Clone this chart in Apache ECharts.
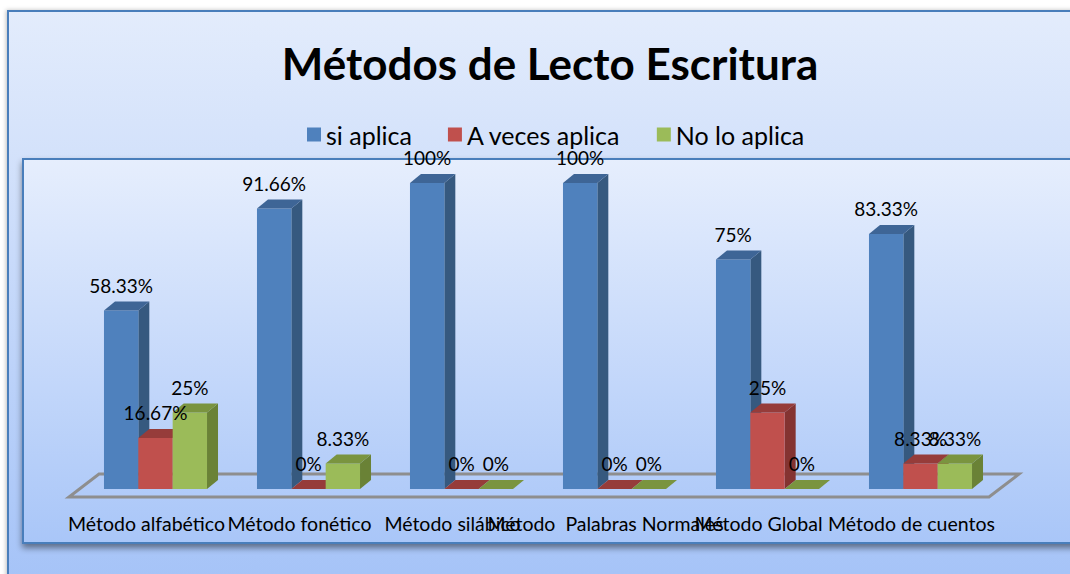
<!DOCTYPE html>
<html>
<head>
<meta charset="utf-8">
<script src="https://cdn.jsdelivr.net/npm/echarts@6/dist/echarts.min.js"></script>
<style>
  html, body { margin: 0; padding: 0; background: #ffffff; }
  #chart { width: 1070px; height: 574px; }
</style>
</head>
<body>
<div id="chart"></div>
<script>
// ---- Data ----
const titleText = 'Métodos de Lecto Escritura';
const categories = ['Método alfabético', 'Método fonético', 'Método silábico', 'Método  Palabras Normales', 'Método Global', 'Método de cuentos'];
const seriesNames = ['si aplica', 'A veces aplica', 'No lo aplica'];
const siAplica = [58.33, 91.66, 100, 100, 75, 83.33];
const aVecesAplica = [16.67, 0, 0, 0, 25, 8.33];
const noLoAplica = [25, 8.33, 0, 0, 0, 8.33];

// ---- Styles ----
const FONT = 'Lato';
const palette = [
  { front: '#4F81BD', top: '#3E6596', side: '#36597F' },
  { front: '#C0504D', top: '#963C3A', side: '#843331' },
  { front: '#9BBB59', top: '#7A943F', side: '#6A8236' }
];
const BAR_FRAC = 0.2245;   // bar width as fraction of category band
const DEPTH_X = 0.32;      // 3D depth as fraction of bar width
const DEPTH_Y = 0.26;

const chart = echarts.init(document.getElementById('chart'), null, { renderer: 'svg' });

function makeBarRenderer(k) {
  return function (params, api) {
    const cat = api.value(0);
    const val = api.value(1);
    const base = api.coord([cat, 0]);
    const top = api.coord([cat, val]);
    const band = api.size([1, 0])[0];
    const bw = band * BAR_FRAC;
    const dx = bw * DEPTH_X, dy = bw * DEPTH_Y;
    const x0 = base[0] + (k - 1) * bw - bw / 2;
    const yb = base[1], yt = top[1];
    const c = palette[k];
    const zb = 10 + k * 5;
    return {
      type: 'group',
      children: [
        { type: 'polygon', z2: zb, shape: { points: [[x0 + bw, yt], [x0 + bw + dx, yt - dy], [x0 + bw + dx, yb - dy], [x0 + bw, yb]] },
          style: { fill: c.side } },
        { type: 'rect', z2: zb + 1, shape: { x: x0, y: yt, width: bw, height: yb - yt },
          style: { fill: c.front } },
        { type: 'polygon', z2: zb + 2, shape: { points: [[x0, yt], [x0 + dx, yt - dy], [x0 + bw + dx, yt - dy], [x0 + bw, yt]] },
          style: { fill: c.top } },
        { type: 'text', z2: 100,
          style: { x: x0 + bw / 2, y: yt - dy - 7, text: val + '%', fill: '#000', font: '19px ' + FONT,
                   align: 'center', verticalAlign: 'bottom' } }
      ]
    };
  };
}

function renderFloor(params, api) {
  const cs = params.coordSys;
  const base = api.coord([0, 0])[1];
  const fy = base + 8, by = base - 15;
  const fl = cs.x - 10, fr = cs.x + cs.width - 8;
  const sx = 30;
  return {
    type: 'polygon',
    shape: { points: [[fl, fy], [fr, fy], [fr + sx, by], [fl + sx, by]] },
    style: { fill: 'none', stroke: '#8E8E8E', lineWidth: 3 }
  };
}

const valueSets = [siAplica, aVecesAplica, noLoAplica];

const series = [{
  type: 'custom',
  name: 'floor',
  silent: true,
  renderItem: renderFloor,
  data: [[0, 0]],
  z: 1
}];
valueSets.forEach(function (vals, k) {
  series.push({
    type: 'custom',
    name: seriesNames[k],
    itemStyle: { color: palette[k].front },
    renderItem: makeBarRenderer(k),
    encode: { x: 0, y: 1 },
    data: vals.map(function (v, i) { return [i, v]; }),
    z: 2
  });
});

chart.setOption({
  animation: false,
  textStyle: { fontFamily: FONT },
  graphic: [
    { type: 'rect', z: -20, silent: true,
      shape: { x: 8, y: 11, width: 1080, height: 600 },
      style: { fill: new echarts.graphic.LinearGradient(0, 0, 0, 1, [
                 { offset: 0, color: '#E3ECFC' }, { offset: 1, color: '#A2C1F7' }]),
               stroke: '#4A7EBB', lineWidth: 2,
               shadowBlur: 4, shadowColor: 'rgba(0,0,0,0.25)', shadowOffsetX: -1 } },
    { type: 'rect', z: -10, silent: true,
      shape: { x: 23, y: 159, width: 1060, height: 384 },
      style: { fill: new echarts.graphic.LinearGradient(0, 0, 0, 1, [
                 { offset: 0, color: '#E6EEFD' }, { offset: 1, color: '#A9C6F8' }]),
               stroke: '#4A7EBB', lineWidth: 2,
               shadowBlur: 6, shadowColor: 'rgba(0,0,0,0.45)', shadowOffsetY: 4 } }
  ],
  title: {
    text: titleText,
    left: 545,
    textAlign: 'center',
    top: 36,
    textStyle: { fontFamily: FONT, fontWeight: 'bold', fontSize: 44, color: '#000' }
  },
  legend: {
    data: seriesNames,
    left: 302,
    top: 117,
    icon: 'rect',
    itemWidth: 14,
    itemHeight: 14,
    itemGap: 36,
    textStyle: { fontFamily: FONT, fontSize: 25, color: '#000' }
  },
  grid: { left: 79, right: 73, top: 183, bottom: 85, containLabel: false },
  xAxis: {
    type: 'category',
    data: categories,
    axisLine: { show: false },
    axisTick: { show: false },
    splitLine: { show: false },
    axisLabel: { interval: 0, hideOverlap: false, margin: 24, fontFamily: FONT, fontSize: 19.5, color: '#000',
                 padding: [0, 18, 0, 0] }
  },
  yAxis: {
    type: 'value', min: 0, max: 100, show: false
  },
  series: series
});
</script>
</body>
</html>
